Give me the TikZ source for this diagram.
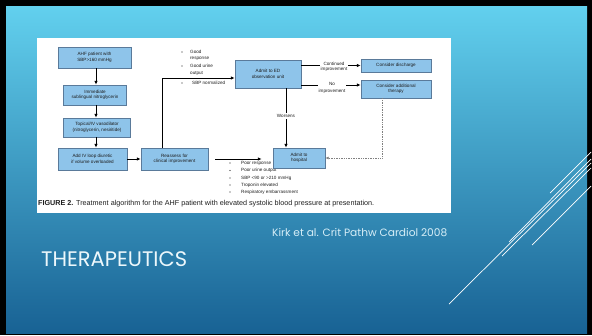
\documentclass[tikz,border=0pt]{standalone}
\usepackage{fontspec}
\setmainfont{Liberation Sans}
\newfontfamily\gothic{Poppins}
\usetikzlibrary{arrows.meta}
\definecolor{boxfill}{RGB}{142,196,234}
\definecolor{boxedge}{RGB}{90,122,154}
\definecolor{bgtop}{RGB}{98,208,238}
\definecolor{bgbot}{RGB}{24,98,148}
\definecolor{ink}{RGB}{30,30,30}
\definecolor{paleink}{RGB}{214,238,247}
\definecolor{titleink}{RGB}{236,247,251}
\begin{document}
\begin{tikzpicture}[x=1pt,y=-1pt,
  fbox/.style={draw=boxedge, line width=0.6pt, fill=boxfill, inner sep=0pt, align=center,
    font=\fontsize{4.6}{5.4}\selectfont, text=ink},
  arr/.style={line width=1pt, -{Latex[length=3.8pt,width=3.4pt]}},
  dotarr/.style={line width=0.7pt, densely dotted, draw=gray, -{Latex[length=3.4pt,width=3pt]}},
  lbl/.style={font=\fontsize{4.6}{5.4}\selectfont, text=ink, inner sep=0pt},
  dot/.style={circle, fill=ink, inner sep=0pt, minimum size=1.3pt},
  onwhite/.style={lbl, fill=white, inner sep=0.8pt, align=center},
  deco/.style={draw=white, line width=0.7pt}
]
\useasboundingbox (0,0) rectangle (592,335);
% slide background
\fill[black] (0,0) rectangle (592,335);
\shade[top color=bgtop, bottom color=bgbot] (6,6) rectangle (587,333);
% white figure panel
\fill[white] (37,38) rectangle (451,213);

% bullet texts
\node[lbl, anchor=west] (b1a) at (190,52) {Good};
\node[lbl, anchor=west] (b1b) at (190,59) {response};
\node[lbl, anchor=west] (b2a) at (190,66) {Good urine};
\node[lbl, anchor=west] (b2b) at (190,73) {output};
\node[lbl, anchor=west] (b3) at (192,83) {SBP normalized};
\node[dot] (d1) at (182,52) {};
\node[dot] (d2) at (182,66) {};
\node[dot] (d3) at (182,83) {};

\node[lbl, anchor=west] (p1) at (241,163) {Poor response};
\node[lbl, anchor=west] (p2) at (241,170.5) {Poor urine output};
\node[lbl, anchor=west] (p3) at (241,178) {SBP <90 or >210 mmHg};
\node[lbl, anchor=west] (p4) at (241,185) {Troponin elevated};
\node[lbl, anchor=west] (p5) at (241,192) {Respiratory embarrassment};
\foreach \yy/\nm in {163/e1,170.5/e2,178/e3,185/e4,192/e5}
  \node[dot] (\nm) at (230,\yy) {};

% boxes
\node[fbox, minimum width=73pt, minimum height=21pt] (ahf) at (94.5,57.5) {AHF patient with\\SBP>160 mmHg};
\node[fbox, minimum width=63pt, minimum height=20pt] (subl) at (95,95) {Immediate\\sublingual nitroglycerin};
\node[fbox, minimum width=67pt, minimum height=19pt] (topi) at (97,127.5) {Topical/IV vasodilator\\(nitroglycerin, nesiritide)};
\node[fbox, minimum width=69pt, minimum height=22pt] (diur) at (92.5,159) {Add IV loop diuretic\\if volume overloaded};
\node[fbox, minimum width=67pt, minimum height=22pt] (reas) at (174.5,159) {Reassess for\\clinical improvement};
\node[fbox, minimum width=66pt, minimum height=28pt] (ed) at (268,74) {Admit to ED\\observation unit};
\node[fbox, minimum width=70pt, minimum height=13pt] (disc) at (396,65.5) {Consider discharge};
\node[fbox, minimum width=70pt, minimum height=18pt] (addt) at (396,89) {Consider additional\\therapy};
\node[fbox, minimum width=52pt, minimum height=20pt] (hosp) at (299,158) {Admit to\\hospital};

% helper coordinates
\coordinate (colx) at (96,0);
\coordinate (upx) at (162,78);
\coordinate (wx) at (286,0);
\coordinate (dx) at (382,0);
\coordinate (y1) at (0,65.5);
\coordinate (y2) at (0,85);

% connectors
\draw[arr] (ahf.south -| colx) -- (subl.north -| colx);
\draw[arr] (subl.south -| colx) -- (topi.north -| colx);
\draw[arr] (topi.south -| colx) -- (diur.north -| colx);
\draw[arr] (diur.east) -- (reas.west);
\draw[arr] (reas.north -| upx) |- (ed.west |- upx);
\draw[arr] (ed.east |- y1) -- (disc.west |- y1);
\draw[arr] (ed.east |- y2) -- (addt.west |- y2);
\draw[arr] (ed.south -| wx) -- (hosp.north -| wx);
\draw[arr, shorten <=7pt, shorten >=11pt] (reas.east) -- (reas.east -| hosp.west);
\draw[dotarr] (addt.south -| dx) |- (hosp.east);

% connector labels
\node[onwhite] (lc) at (334,66.8) {Continued\\improvement};
\node[onwhite, font=\fontsize{4.6}{7.5}\selectfont] (ln) at (332,88) {No\\improvement};
\node[onwhite, inner sep=1.2pt] (lw) at (286,116) {Worsens};

% caption
\node[anchor=west, inner sep=0pt, text=ink] (cap) at (38,204)
  {\resizebox{336pt}{!}{\textbf{FIGURE 2.} Treatment algorithm for the AHF patient with elevated systolic blood pressure at presentation.}};

% slide texts
\node[anchor=west, inner sep=0pt, text=paleink] (cite) at (272,233)
  {\resizebox{175pt}{!}{\gothic Kirk et al. Crit Pathw Cardiol 2008}};
\node[anchor=west, inner sep=0pt, text=titleink] (title) at (41,259)
  {\resizebox{146pt}{!}{\gothic THERAPEUTICS}};

% decorative lines
\draw[deco] (550,193) -- (591,152);
\draw[deco] (509,242) -- (591,159);
\draw[deco] (502,256) -- (591,168);
\draw[deco] (449,304) -- (591,163);
\draw[deco] (532,245) -- (591,186);
\end{tikzpicture}
\end{document}
